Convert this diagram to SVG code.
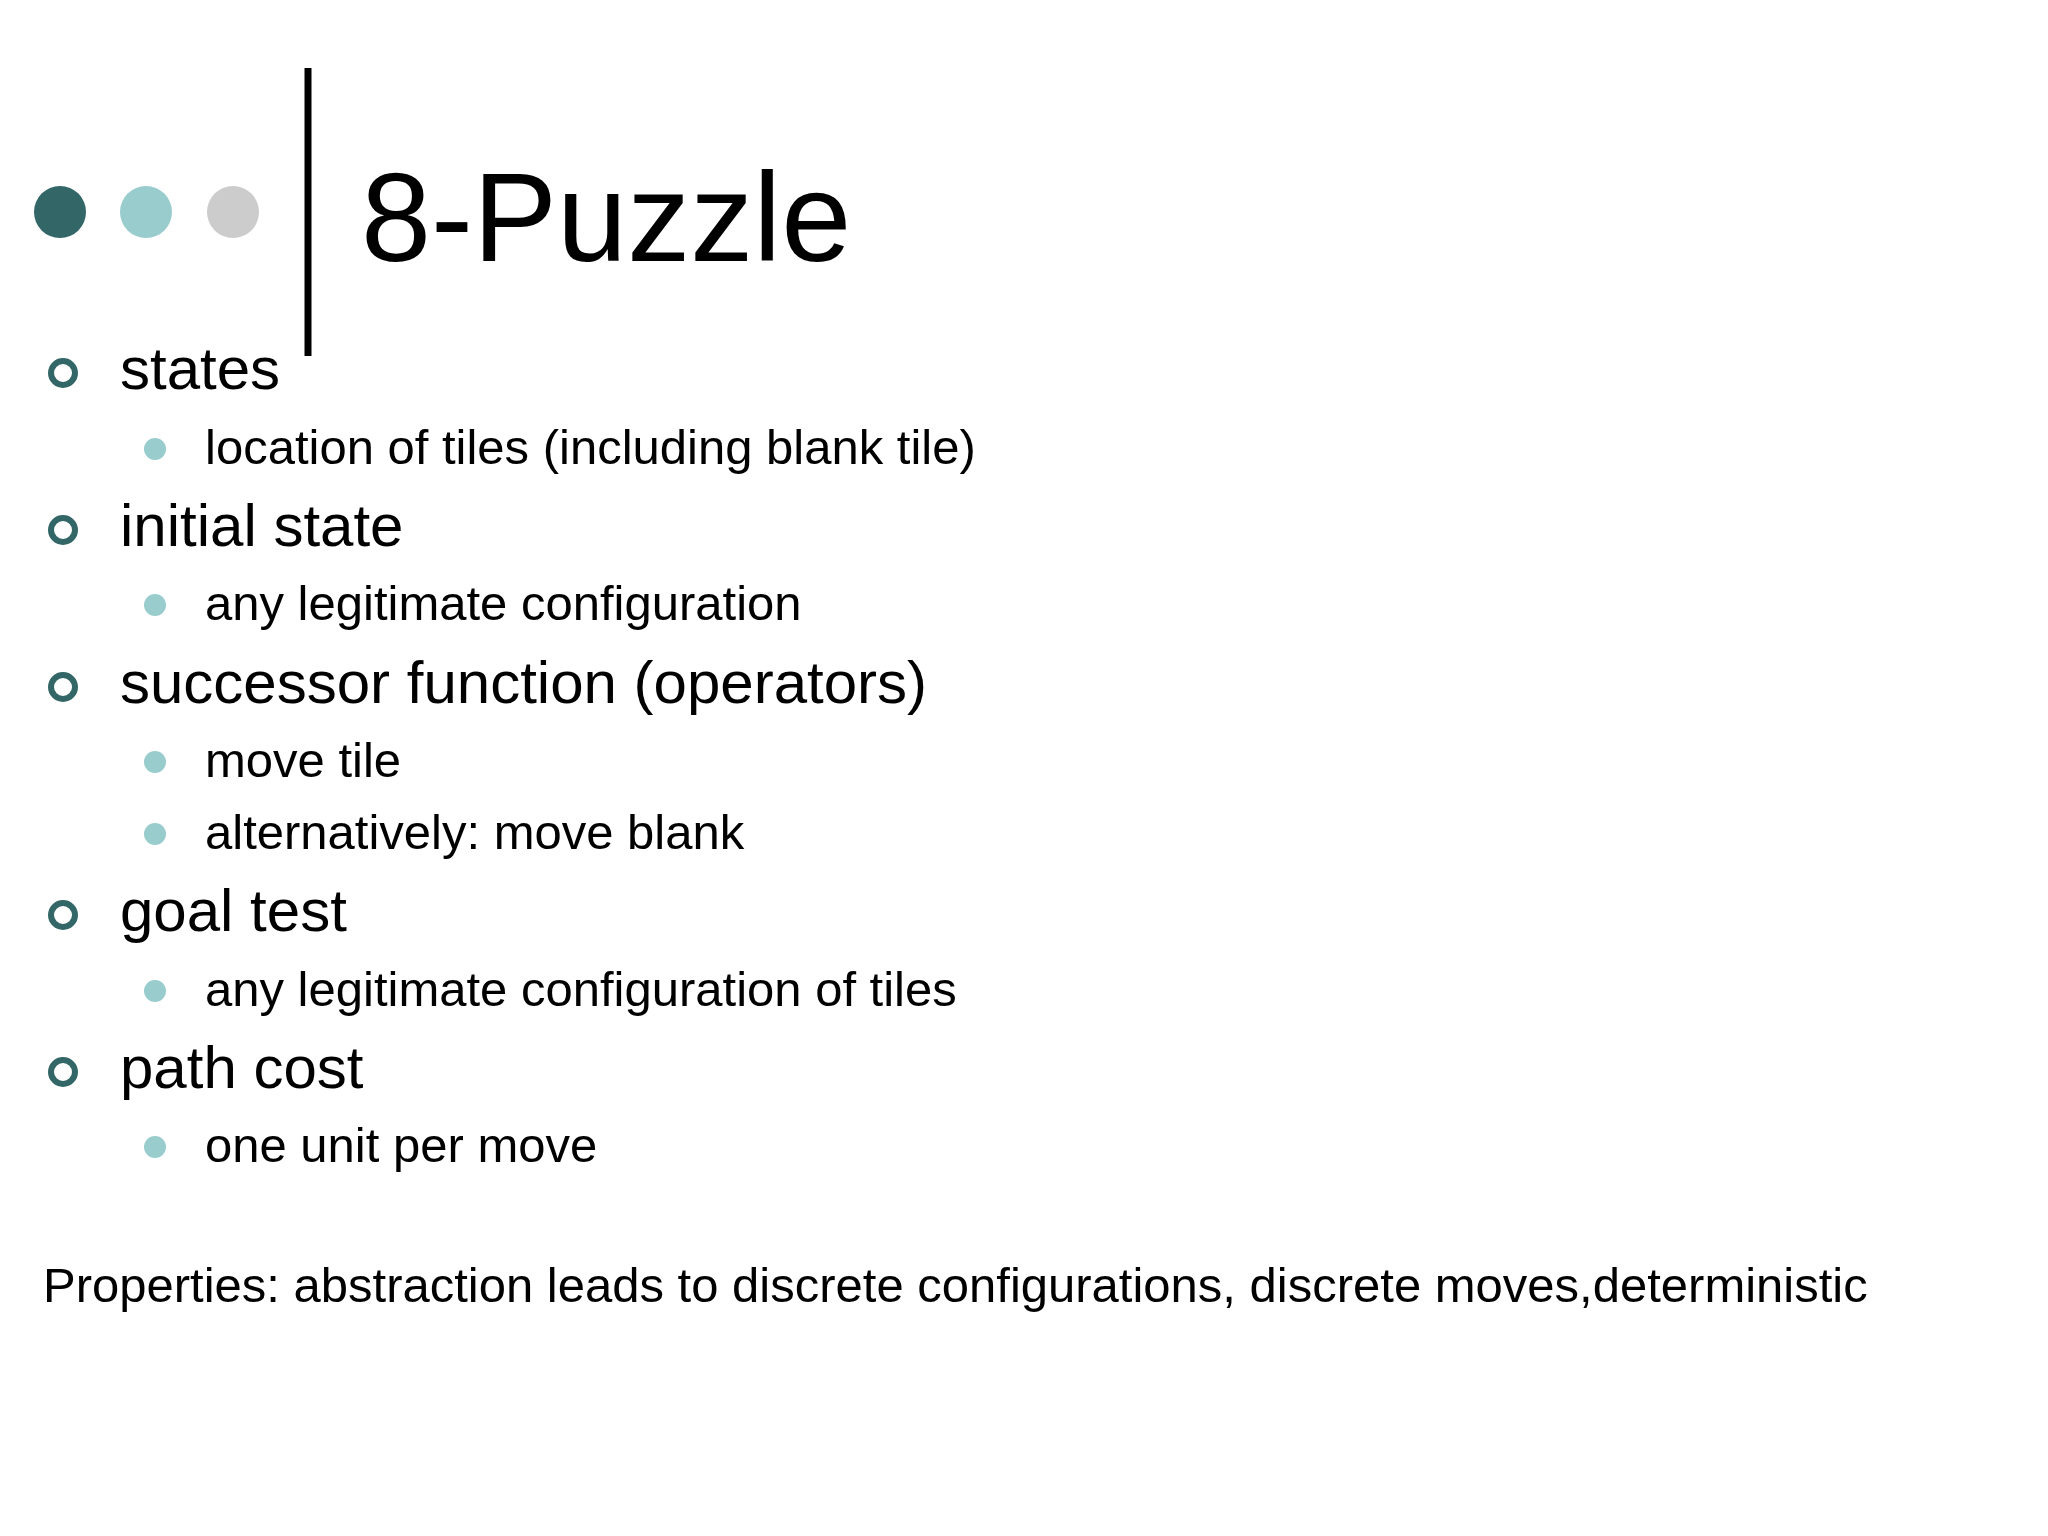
<svg xmlns="http://www.w3.org/2000/svg" width="2048" height="1536" viewBox="0 0 2048 1536">
<style>
text{font-family:"Liberation Sans",Arial,sans-serif;fill:#000}
.t{font-size:126px}
.l1{font-size:60px}
.l2{font-size:49px}
.ring{fill:none;stroke:#336666;stroke-width:6}
.dot{fill:#99cccc}
</style>
<rect width="2048" height="1536" fill="#fff"/>
<g id="header">
<circle cx="60" cy="212" r="26" fill="#336666"/>
<circle cx="146" cy="212" r="26" fill="#99cccc"/>
<circle cx="233" cy="212" r="26" fill="#cccccc"/>
<line x1="308" y1="68" x2="308" y2="356" stroke="#000" stroke-width="7"/>
<text class="t" x="361" y="261">8-Puzzle</text>
</g>
<g id="bullets">
<circle class="ring" cx="63" cy="373" r="12"/><text class="l1" x="120" y="389">states</text>
<circle class="dot" cx="155" cy="449" r="11"/><text class="l2" x="205" y="464">location of tiles (including blank tile)</text>
<circle class="ring" cx="63" cy="530" r="12"/><text class="l1" x="120" y="546">initial state</text>
<circle class="dot" cx="155" cy="605" r="11"/><text class="l2" x="205" y="620">any legitimate configuration</text>
<circle class="ring" cx="63" cy="687" r="12"/><text class="l1" x="120" y="703">successor function (operators)</text>
<circle class="dot" cx="155" cy="762" r="11"/><text class="l2" x="205" y="777">move tile</text>
<circle class="dot" cx="155" cy="834" r="11"/><text class="l2" x="205" y="849">alternatively: move blank</text>
<circle class="ring" cx="63" cy="915" r="12"/><text class="l1" x="120" y="931">goal test</text>
<circle class="dot" cx="155" cy="991" r="11"/><text class="l2" x="205" y="1006">any legitimate configuration of tiles</text>
<circle class="ring" cx="63" cy="1072" r="12"/><text class="l1" x="120" y="1088">path cost</text>
<circle class="dot" cx="155" cy="1147" r="11"/><text class="l2" x="205" y="1162">one unit per move</text>
</g>
<text class="l2" x="43" y="1302">Properties: abstraction leads to discrete configurations, discrete moves,deterministic</text>
</svg>
